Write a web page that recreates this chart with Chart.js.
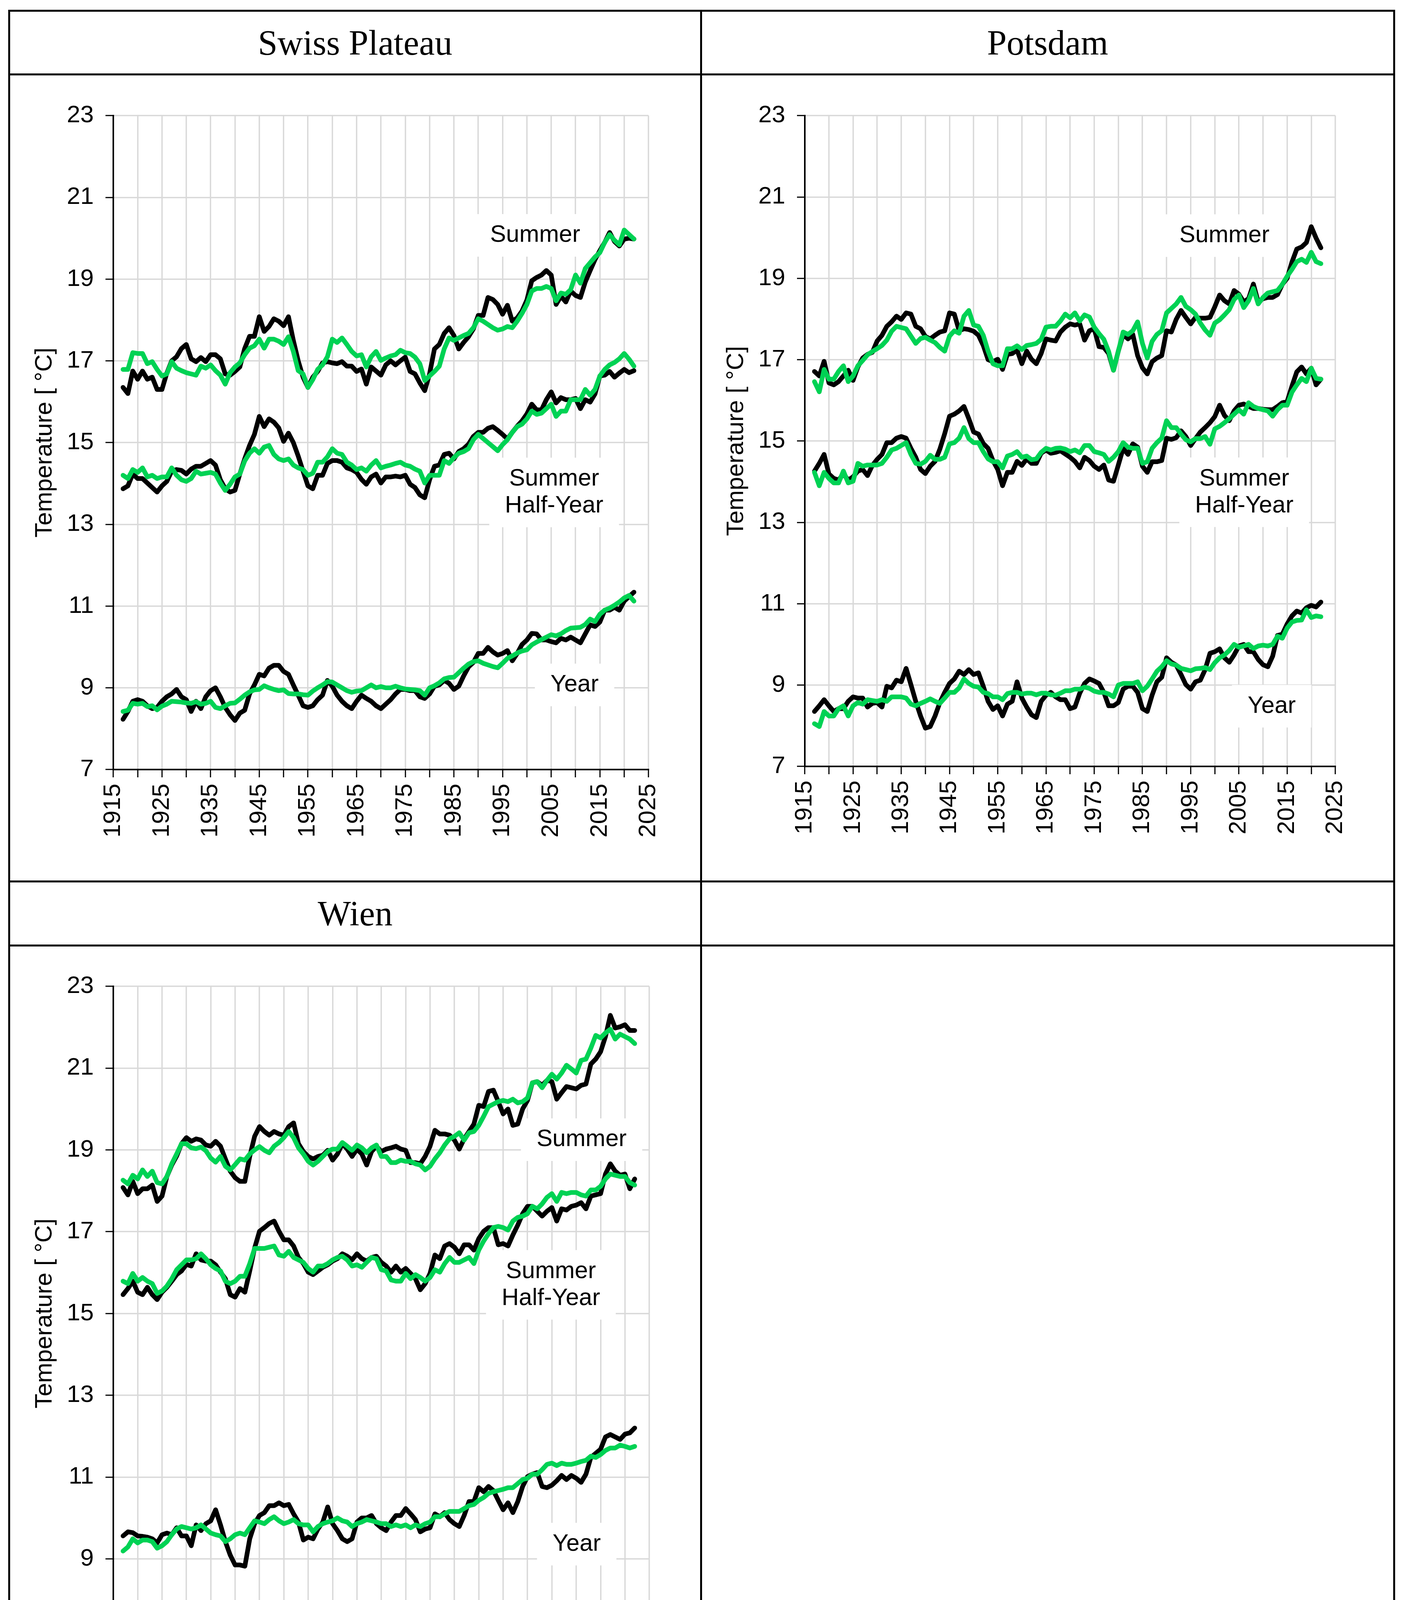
<!DOCTYPE html>
<html>
  <head>
    <title>Measured and Estimated Temperature</title>
    <script src="https://cdn.jsdelivr.net/npm/chart.js@4.4.0/dist/chart.umd.min.js"></script>
    <style>
      body { margin: 0; background: #fff; }
      #page { position: relative; width: 3586px; height: 4513px; background: #fff; overflow: hidden; }
      .rule { position: absolute; background: #000; }
      .head {
        position: absolute; display: flex; align-items: center; justify-content: center;
        font-family: "Liberation Serif", "DejaVu Serif", serif; font-size: 90px; color: #000;
      }
      canvas { position: absolute; }
      #legend {
        position: absolute; left: 1874px; top: 4173px; height: 80px; display: flex; align-items: center;
        font-family: "Liberation Sans", Arial, sans-serif; font-size: 64px; color: #000; white-space: nowrap;
      }
      .swatch { display: inline-block; width: 115px; height: 15px; border-radius: 7px; margin-right: 9px; }
    </style>
  </head>

  <body>
    <div id="page">
      <div class="rule" style="left:21px;top:25px;width:3550px;height:5px"></div>
      <div class="rule" style="left:21px;top:4490px;width:3550px;height:5px"></div>
      <div class="rule" style="left:21px;top:25px;width:5px;height:4470px"></div>
      <div class="rule" style="left:3566px;top:25px;width:5px;height:4470px"></div>
      <div class="rule" style="left:1792px;top:25px;width:5px;height:4470px"></div>
      <div class="rule" style="left:21px;top:188px;width:3550px;height:5px"></div>
      <div class="rule" style="left:21px;top:2254px;width:3550px;height:5px"></div>
      <div class="rule" style="left:21px;top:2418px;width:3550px;height:5px"></div>

      <div class="head" style="left:26px;top:30px;width:1766px;height:158px">Swiss Plateau</div>
      <div class="head" style="left:1797px;top:30px;width:1769px;height:158px">Potsdam</div>
      <div class="head" style="left:26px;top:2259px;width:1766px;height:159px">Wien</div>

      <canvas id="swiss" width="1740" height="2020" style="left:40px;top:220px"></canvas>
      <canvas id="potsdam" width="1740" height="2020" style="left:1810px;top:220px"></canvas>
      <canvas id="wien" width="1740" height="2020" style="left:40px;top:2449px"></canvas>

      <div id="legend">
        <span class="swatch" style="background:#000"></span><span style="margin-right:11px">Measured Temperature</span>
        <span class="swatch" style="background:#00d254"></span><span>Estimated Temperature</span>
      </div>
    </div>

    <script>
      // years 1917 .. 2022
      const years = Array.from({ length: 106 }, (_, i) => 1917 + i);

      // Swiss Plateau
      const swSumM = [16.35, 16.2, 16.75, 16.55, 16.75, 16.55, 16.6, 16.3, 16.3, 16.7,
        17.0, 17.1, 17.3, 17.4, 17.05, 16.98, 17.08, 16.98, 17.15, 17.15,
        17.05, 16.68, 16.65, 16.74, 16.85, 17.3, 17.6, 17.6, 18.08, 17.72,
        17.84, 18.03, 17.97, 17.86, 18.08, 17.5, 17.0, 16.6, 16.35, 16.6,
        16.74, 16.95, 16.98, 16.95, 16.93, 16.98, 16.87, 16.87, 16.74, 16.8,
        16.43, 16.85, 16.75, 16.65, 16.9, 17.0, 16.9, 17.0, 17.09, 16.74,
        16.68, 16.46, 16.27, 16.68, 17.29, 17.4, 17.67, 17.81, 17.62, 17.29,
        17.45, 17.59, 17.78, 18.11, 18.11, 18.55, 18.5, 18.38, 18.14, 18.36,
        17.97, 18.05, 18.22, 18.49, 18.96, 19.04, 19.1, 19.21, 19.1, 18.38,
        18.58, 18.44, 18.71, 18.6, 18.55, 18.93, 19.21, 19.48, 19.7, 19.9,
        20.14, 19.92, 19.81, 19.98, 20.0, 19.98];
      const swSumE = [16.79, 16.79, 17.2, 17.18, 17.18, 16.93, 16.98, 16.79, 16.63, 16.68,
        16.98, 16.82, 16.76, 16.71, 16.68, 16.65, 16.87, 16.82, 16.9, 16.76,
        16.65, 16.43, 16.71, 16.85, 16.95, 17.15, 17.31, 17.37, 17.53, 17.31,
        17.53, 17.53, 17.48, 17.4, 17.59, 17.23, 16.76, 16.68, 16.35, 16.54,
        16.79, 16.9, 17.1, 17.53, 17.45, 17.56, 17.4, 17.23, 17.12, 17.15,
        16.85, 17.1, 17.23, 17.01, 17.07, 17.12, 17.15, 17.26, 17.2, 17.18,
        17.09, 16.93, 16.52, 16.63, 16.74, 16.87, 17.29, 17.56, 17.5, 17.56,
        17.62, 17.67, 17.81, 18.03, 17.97, 17.89, 17.81, 17.75, 17.78, 17.84,
        17.81, 17.97, 18.16, 18.38, 18.71, 18.77, 18.77, 18.82, 18.77, 18.47,
        18.66, 18.63, 18.74, 19.1, 18.9, 19.26, 19.4, 19.54, 19.65, 19.9,
        20.09, 19.95, 19.84, 20.2, 20.09, 19.98];
      const swHalfM = [13.87, 13.94, 14.23, 14.12, 14.12, 14.01, 13.9, 13.79, 13.94, 14.05,
        14.3, 14.34, 14.32, 14.23, 14.35, 14.42, 14.42, 14.49, 14.56, 14.45,
        14.09, 13.87, 13.79, 13.83, 14.23, 14.6, 14.93, 15.2, 15.64, 15.39,
        15.58, 15.5, 15.36, 15.03, 15.23, 15.0, 14.67, 14.3, 13.94, 13.87,
        14.2, 14.2, 14.49, 14.56, 14.56, 14.52, 14.38, 14.34, 14.27, 14.1,
        13.98, 14.16, 14.23, 14.01, 14.16, 14.16, 14.18, 14.16, 14.2, 13.98,
        13.9, 13.72, 13.65, 14.09, 14.42, 14.45, 14.71, 14.74, 14.6, 14.78,
        14.85, 14.96, 15.15, 15.25, 15.25, 15.35, 15.39, 15.3, 15.2, 15.09,
        15.25, 15.4, 15.53, 15.7, 15.94, 15.8, 15.8, 16.05, 16.24, 15.97,
        16.1, 16.05, 16.05, 16.08, 15.83, 16.05, 15.99, 16.19, 16.63, 16.65,
        16.74, 16.6, 16.7, 16.79, 16.71, 16.76];
      const swHalfE = [14.2, 14.12, 14.34, 14.27, 14.38, 14.16, 14.2, 14.12, 14.16, 14.16,
        14.38, 14.2, 14.09, 14.05, 14.12, 14.3, 14.23, 14.25, 14.27, 14.23,
        14.01, 13.83, 13.98, 14.16, 14.23, 14.55, 14.74, 14.85, 14.74, 14.89,
        14.93, 14.71, 14.6, 14.56, 14.6, 14.45, 14.38, 14.34, 14.2, 14.25,
        14.52, 14.52, 14.65, 14.85, 14.74, 14.71, 14.52, 14.45, 14.34, 14.38,
        14.3, 14.45, 14.56, 14.38, 14.42, 14.45, 14.49, 14.52, 14.45, 14.42,
        14.35, 14.3, 14.01, 14.2, 14.2, 14.2, 14.56, 14.49, 14.63, 14.74,
        14.78, 14.85, 15.07, 15.2, 15.1, 15.0, 14.9, 14.8, 14.95, 15.07,
        15.25, 15.39, 15.45, 15.58, 15.77, 15.69, 15.72, 15.83, 15.94, 15.64,
        15.77, 15.77, 16.05, 16.05, 16.05, 16.3, 16.16, 16.3, 16.63, 16.79,
        16.9, 16.96, 17.05, 17.18, 17.04, 16.87];
      const swYearM = [8.23, 8.42, 8.67, 8.71, 8.67, 8.56, 8.49, 8.52, 8.67, 8.78,
        8.85, 8.96, 8.78, 8.71, 8.42, 8.67, 8.49, 8.78, 8.93, 9.0,
        8.78, 8.52, 8.34, 8.2, 8.38, 8.45, 8.85, 9.07, 9.33, 9.29,
        9.48, 9.55, 9.55, 9.4, 9.33, 9.07, 8.82, 8.56, 8.52, 8.56,
        8.71, 8.82, 9.18, 9.04, 8.82, 8.67, 8.56, 8.49, 8.67, 8.82,
        8.74, 8.67, 8.56, 8.49, 8.6, 8.71, 8.85, 8.96, 8.96, 8.93,
        8.93, 8.78, 8.74, 8.85, 9.04, 9.07, 9.18, 9.11, 8.96, 9.04,
        9.29, 9.51, 9.62, 9.84, 9.84, 9.99, 9.88, 9.8, 9.84, 9.91,
        9.66, 9.84, 10.06, 10.17, 10.33, 10.32, 10.17, 10.17, 10.13, 10.1,
        10.21, 10.17, 10.24, 10.17, 10.1, 10.32, 10.54, 10.5, 10.61, 10.9,
        10.9, 10.97, 10.9, 11.12, 11.23, 11.34];
      const swYearE = [8.42, 8.45, 8.62, 8.6, 8.62, 8.54, 8.56, 8.46, 8.55, 8.6,
        8.67, 8.66, 8.65, 8.63, 8.62, 8.66, 8.6, 8.62, 8.67, 8.52,
        8.49, 8.56, 8.62, 8.63, 8.72, 8.82, 8.9, 8.95, 8.96, 9.05,
        9.0, 8.96, 8.93, 8.95, 8.86, 8.85, 8.85, 8.83, 8.82, 8.92,
        9.0, 9.07, 9.15, 9.14, 9.07, 9.0, 8.93, 8.89, 8.92, 8.93,
        9.0, 9.07, 9.0, 9.03, 9.0, 9.0, 9.04, 9.0, 8.97, 8.96,
        8.95, 8.93, 8.82, 9.0, 9.05, 9.12, 9.22, 9.25, 9.26, 9.37,
        9.48, 9.58, 9.64, 9.66, 9.6, 9.56, 9.52, 9.49, 9.6, 9.72,
        9.78, 9.85, 9.9, 9.93, 10.05, 10.12, 10.18, 10.24, 10.3, 10.27,
        10.32, 10.4, 10.46, 10.47, 10.48, 10.55, 10.68, 10.62, 10.8, 10.9,
        10.95, 11.02, 11.1, 11.2, 11.26, 11.12];

      // Potsdam
      const poSumM = [16.71, 16.6, 16.96, 16.43, 16.38, 16.46, 16.6, 16.74, 16.49, 16.82,
        17.04, 17.13, 17.18, 17.46, 17.6, 17.82, 17.93, 18.07, 17.99, 18.15,
        18.12, 17.82, 17.76, 17.57, 17.51, 17.6, 17.68, 17.71, 18.15, 18.12,
        17.71, 17.76, 17.74, 17.7, 17.6, 17.35, 17.0, 16.95, 17.01, 16.76,
        17.13, 17.15, 17.24, 16.9, 17.21, 17.01, 16.9, 17.15, 17.51, 17.48,
        17.46, 17.68, 17.8, 17.88, 17.85, 17.88, 17.48, 17.71, 17.76, 17.32,
        17.3, 17.15, 16.74, 17.21, 17.62, 17.51, 17.62, 17.1, 16.8, 16.65,
        16.95, 17.04, 17.1, 17.71, 17.68, 17.99, 18.21, 18.04, 17.88, 18.04,
        18.02, 18.02, 18.04, 18.3, 18.59, 18.45, 18.37, 18.7, 18.61, 18.42,
        18.5, 18.86, 18.42, 18.5, 18.53, 18.53, 18.6, 18.85, 19.0, 19.4,
        19.72, 19.77, 19.88, 20.27, 19.99, 19.75];
      const poSumE = [16.46, 16.21, 16.76, 16.52, 16.52, 16.71, 16.85, 16.46, 16.6, 16.85,
        16.98, 17.12, 17.2, 17.27, 17.35, 17.48, 17.7, 17.82, 17.79, 17.76,
        17.58, 17.4, 17.52, 17.55, 17.48, 17.42, 17.3, 17.21, 17.58, 17.71,
        17.65, 18.07, 18.21, 17.85, 17.82, 17.6, 17.21, 16.9, 16.85, 16.85,
        17.27, 17.27, 17.34, 17.25, 17.35, 17.37, 17.4, 17.5, 17.8, 17.82,
        17.82, 17.95, 18.12, 18.03, 18.15, 17.95, 18.1, 18.05, 17.8, 17.64,
        17.5, 17.2, 16.74, 17.21, 17.68, 17.62, 17.71, 17.93, 17.4, 17.04,
        17.45, 17.62, 17.71, 18.15, 18.26, 18.37, 18.53, 18.31, 18.23, 18.12,
        17.9, 17.73, 17.6, 17.9, 17.98, 18.1, 18.23, 18.48, 18.59, 18.28,
        18.45, 18.75, 18.37, 18.53, 18.64, 18.67, 18.7, 18.85, 19.05, 19.22,
        19.41, 19.47, 19.39, 19.64, 19.41, 19.36];
      const poHalfM = [14.26, 14.45, 14.67, 14.19, 14.08, 14.04, 14.19, 14.04, 14.12, 14.26,
        14.3, 14.15, 14.4, 14.55, 14.67, 14.96, 14.96, 15.07, 15.11, 15.07,
        14.82, 14.6, 14.3, 14.2, 14.38, 14.5, 14.8, 15.18, 15.61, 15.66,
        15.74, 15.85, 15.55, 15.22, 15.17, 14.94, 14.82, 14.52, 14.3, 13.9,
        14.23, 14.23, 14.5, 14.4, 14.56, 14.45, 14.45, 14.7, 14.78, 14.7,
        14.72, 14.76, 14.68, 14.6, 14.5, 14.34, 14.6, 14.52, 14.38, 14.3,
        14.41, 14.04, 14.01, 14.41, 14.82, 14.67, 14.93, 14.85, 14.38, 14.23,
        14.49, 14.49, 14.52, 15.07, 15.04, 15.08, 15.25, 15.11, 14.89, 15.06,
        15.22, 15.33, 15.45, 15.6, 15.88, 15.63, 15.5, 15.74, 15.88, 15.91,
        15.85, 15.8, 15.8, 15.78, 15.77, 15.77, 15.85, 15.94, 15.97, 16.35,
        16.7, 16.82, 16.65, 16.79, 16.38, 16.52];
      const poHalfE = [14.23, 13.9, 14.23, 14.08, 13.97, 13.97, 14.26, 13.97, 14.01, 14.45,
        14.38, 14.41, 14.41, 14.41, 14.45, 14.6, 14.78, 14.82, 14.89, 14.96,
        14.67, 14.45, 14.43, 14.5, 14.65, 14.55, 14.55, 14.6, 14.93, 14.96,
        15.07, 15.33, 15.06, 14.96, 14.96, 14.74, 14.56, 14.49, 14.49, 14.34,
        14.63, 14.67, 14.74, 14.6, 14.63, 14.54, 14.56, 14.72, 14.82, 14.78,
        14.82, 14.83, 14.8, 14.74, 14.78, 14.71, 14.89, 14.89, 14.74, 14.71,
        14.67, 14.5, 14.6, 14.74, 14.96, 14.85, 14.82, 14.82, 14.45, 14.49,
        14.82, 14.96, 15.07, 15.5, 15.33, 15.33, 15.17, 15.03, 14.98, 15.06,
        15.06, 15.11, 14.92, 15.3, 15.36, 15.45, 15.55, 15.66, 15.77, 15.66,
        15.94, 15.85, 15.8, 15.77, 15.74, 15.61, 15.77, 15.88, 15.88, 16.2,
        16.38, 16.54, 16.46, 16.79, 16.54, 16.52];
      const poYearM = [8.35, 8.49, 8.64, 8.49, 8.35, 8.42, 8.42, 8.6, 8.71, 8.68,
        8.68, 8.46, 8.55, 8.57, 8.46, 8.97, 8.93, 9.12, 9.08, 9.41,
        9.01, 8.6, 8.24, 7.94, 7.98, 8.24, 8.57, 8.82, 9.04, 9.15,
        9.34, 9.26, 9.38, 9.26, 9.3, 8.97, 8.6, 8.4, 8.49, 8.24,
        8.53, 8.6, 9.08, 8.68, 8.46, 8.27, 8.2, 8.6, 8.75, 8.82,
        8.71, 8.64, 8.64, 8.42, 8.46, 8.8, 9.04, 9.15, 9.1, 9.04,
        8.82, 8.49, 8.49, 8.57, 8.9, 8.97, 8.97, 8.82, 8.42, 8.35,
        8.75, 9.08, 9.19, 9.67, 9.56, 9.49, 9.26, 9.01, 8.9, 9.08,
        9.12, 9.38, 9.78, 9.82, 9.89, 9.67, 9.56, 9.74, 9.96, 10.0,
        9.82, 9.82, 9.63, 9.5, 9.45, 9.71, 10.22, 10.25, 10.5, 10.7,
        10.82, 10.77, 10.9, 10.96, 10.92, 11.04];
      const poYearE = [8.05, 7.98, 8.35, 8.24, 8.24, 8.42, 8.49, 8.24, 8.49, 8.57,
        8.53, 8.64, 8.62, 8.6, 8.64, 8.6, 8.71, 8.71, 8.71, 8.68,
        8.53, 8.49, 8.55, 8.6, 8.66, 8.6, 8.55, 8.68, 8.82, 8.82,
        8.93, 9.15, 9.04, 8.97, 8.95, 8.82, 8.79, 8.71, 8.71, 8.64,
        8.79, 8.82, 8.82, 8.78, 8.8, 8.8, 8.76, 8.8, 8.8, 8.76,
        8.75, 8.8, 8.86, 8.86, 8.9, 8.9, 8.95, 8.92, 8.85, 8.82,
        8.82, 8.78, 8.71, 9.0, 9.04, 9.04, 9.04, 9.08, 8.86, 8.97,
        9.15, 9.34, 9.45, 9.6, 9.52, 9.49, 9.41, 9.38, 9.35, 9.4,
        9.41, 9.43, 9.38, 9.55, 9.67, 9.74, 9.85, 10.0, 9.93, 9.96,
        10.0, 9.9, 9.96, 9.98, 9.96, 10.0, 10.2, 10.15, 10.4, 10.55,
        10.59, 10.6, 10.85, 10.66, 10.7, 10.68];

      // Wien
      const wiSumM = [18.08, 17.9, 18.23, 17.93, 18.05, 18.05, 18.14, 17.74, 17.87, 18.35,
        18.63, 18.85, 19.15, 19.3, 19.21, 19.27, 19.24, 19.12, 19.09, 19.21,
        19.09, 18.78, 18.48, 18.32, 18.23, 18.23, 18.84, 19.33, 19.57, 19.45,
        19.36, 19.45, 19.39, 19.36, 19.57, 19.66, 19.15, 18.96, 18.84, 18.78,
        18.84, 18.87, 18.99, 18.75, 18.9, 19.15, 19.02, 18.84, 19.02, 18.9,
        18.63, 18.96, 19.09, 18.96, 19.02, 19.05, 19.09, 19.02, 18.99, 18.69,
        18.69, 18.66, 18.84, 19.09, 19.48, 19.39, 19.39, 19.36, 19.24, 19.02,
        19.27, 19.45, 19.63, 20.09, 20.06, 20.43, 20.46, 20.18, 19.88, 20.0,
        19.6, 19.63, 20.0, 20.21, 20.64, 20.67, 20.58, 20.7, 20.67, 20.24,
        20.4, 20.55, 20.52, 20.49, 20.58, 20.61, 21.1, 21.22, 21.4, 21.77,
        22.29, 21.98, 22.01, 22.06, 21.92, 21.92];
      const wiSumE = [18.26, 18.17, 18.38, 18.29, 18.51, 18.35, 18.48, 18.2, 18.17, 18.35,
        18.66, 18.9, 19.15, 19.15, 19.05, 19.03, 19.07, 18.98, 18.8, 18.7,
        18.84, 18.6, 18.51, 18.64, 18.78, 18.75, 18.9, 19.0, 19.08, 18.99,
        18.93, 19.09, 19.18, 19.3, 19.45, 19.3, 19.05, 18.9, 18.72, 18.63,
        18.72, 18.84, 18.96, 19.02, 19.02, 19.18, 19.09, 18.99, 19.12, 19.05,
        18.93, 19.05, 19.12, 18.84, 18.84, 18.69, 18.69, 18.75, 18.72, 18.72,
        18.66, 18.63, 18.51, 18.6, 18.78, 18.93, 19.12, 19.27, 19.33, 19.42,
        19.24, 19.42, 19.45, 19.6, 19.82, 20.06, 20.12, 20.18, 20.21, 20.18,
        20.24, 20.15, 20.18, 20.27, 20.64, 20.67, 20.52, 20.7, 20.85, 20.73,
        20.88, 21.07, 20.98, 20.88, 21.19, 21.22, 21.49, 21.8, 21.74, 21.86,
        21.95, 21.71, 21.83, 21.77, 21.71, 21.6];
      const wiHalfM = [15.46, 15.61, 15.79, 15.52, 15.46, 15.64, 15.46, 15.34, 15.52, 15.64,
        15.79, 15.95, 16.04, 16.2, 16.16, 16.46, 16.31, 16.28, 16.28, 16.19,
        16.01, 15.85, 15.46, 15.4, 15.61, 15.52, 16.04, 16.6, 17.01, 17.1,
        17.2, 17.26, 17.01, 16.8, 16.8, 16.65, 16.37, 16.22, 16.01, 15.95,
        16.04, 16.13, 16.19, 16.28, 16.34, 16.46, 16.4, 16.31, 16.46, 16.34,
        16.28, 16.37, 16.4, 16.25, 16.16, 16.01, 16.16, 16.01, 16.1, 15.98,
        15.85, 15.58, 15.73, 15.98, 16.43, 16.34, 16.65, 16.71, 16.62, 16.46,
        16.68, 16.68, 16.55, 16.83, 17.01, 17.1, 17.1, 16.68, 16.71, 16.65,
        16.92, 17.16, 17.44, 17.62, 17.62, 17.5, 17.38, 17.5, 17.59, 17.26,
        17.56, 17.53, 17.62, 17.65, 17.71, 17.56, 17.87, 17.9, 17.93, 18.41,
        18.66, 18.48, 18.38, 18.41, 18.05, 18.29];
      const wiHalfE = [15.79, 15.73, 15.98, 15.79, 15.88, 15.79, 15.73, 15.49, 15.55, 15.67,
        15.85, 16.07, 16.19, 16.31, 16.31, 16.34, 16.46, 16.34, 16.19, 16.1,
        16.04, 15.79, 15.73, 15.79, 15.91, 15.91, 16.22, 16.59, 16.59, 16.59,
        16.62, 16.65, 16.43, 16.4, 16.52, 16.37, 16.31, 16.25, 16.1, 16.01,
        16.16, 16.16, 16.22, 16.31, 16.37, 16.4, 16.31, 16.16, 16.19, 16.13,
        16.25, 16.37, 16.34, 16.07, 16.04, 15.82, 15.79, 15.79, 15.98, 15.85,
        15.95, 15.88, 15.79, 15.88, 16.07, 16.01, 16.22, 16.37, 16.25, 16.25,
        16.31, 16.37, 16.22, 16.55, 16.77, 16.95, 17.1, 17.13, 17.1, 17.04,
        17.26, 17.35, 17.38, 17.44, 17.62, 17.56, 17.68, 17.84, 17.93, 17.74,
        17.96, 17.93, 17.96, 17.96, 17.9, 17.87, 18.02, 18.02, 18.11, 18.29,
        18.41, 18.38, 18.35, 18.35, 18.2, 18.14];
      const wiYearM = [9.56, 9.66, 9.64, 9.56, 9.55, 9.53, 9.49, 9.39, 9.59, 9.63,
        9.59, 9.76, 9.56, 9.56, 9.32, 9.83, 9.69, 9.86, 9.93, 10.2,
        9.83, 9.42, 9.09, 8.85, 8.85, 8.82, 9.49, 9.86, 10.06, 10.13,
        10.3, 10.3, 10.37, 10.3, 10.33, 10.1, 9.9, 9.46, 9.53, 9.49,
        9.73, 9.9, 10.27, 9.86, 9.69, 9.49, 9.42, 9.49, 9.9, 10.0,
        10.0, 10.06, 9.86, 9.76, 9.69, 9.9, 10.06, 10.06, 10.23, 10.1,
        9.96, 9.66, 9.73, 9.76, 10.1, 10.03, 10.13, 9.96, 9.86, 9.79,
        10.06, 10.4, 10.4, 10.74, 10.64, 10.77, 10.67, 10.43, 10.2, 10.37,
        10.13, 10.4, 10.77, 11.01, 11.07, 11.11, 10.77, 10.74, 10.8, 10.91,
        11.04, 10.94, 11.04, 10.97, 10.87, 11.07, 11.48, 11.58, 11.68, 11.98,
        12.04, 11.98, 11.92, 12.05, 12.08, 12.2];
      const wiYearE = [9.19, 9.29, 9.49, 9.39, 9.46, 9.46, 9.42, 9.26, 9.32, 9.42,
        9.59, 9.73, 9.79, 9.76, 9.73, 9.76, 9.83, 9.73, 9.63, 9.59,
        9.56, 9.42, 9.49, 9.59, 9.63, 9.59, 9.76, 9.93, 9.9, 9.86,
        9.96, 10.03, 9.93, 9.86, 9.9, 9.96, 9.86, 9.83, 9.83, 9.66,
        9.79, 9.86, 9.9, 9.93, 10.0, 9.93, 9.9, 9.79, 9.86, 9.9,
        9.96, 9.93, 9.9, 9.86, 9.86, 9.79, 9.83, 9.79, 9.83, 9.76,
        9.83, 9.79, 9.86, 9.9, 10.03, 10.03, 10.1, 10.16, 10.16, 10.16,
        10.23, 10.3, 10.33, 10.43, 10.5, 10.6, 10.64, 10.67, 10.7, 10.74,
        10.74, 10.84, 10.94, 10.97, 11.07, 11.07, 11.18, 11.31, 11.34, 11.28,
        11.34, 11.31, 11.31, 11.34, 11.38, 11.41, 11.51, 11.48, 11.55, 11.65,
        11.71, 11.71, 11.78, 11.75, 11.71, 11.75];

      const BLACK = '#000000';
      const GREEN = '#00d254';
      const SANS = '"Liberation Sans", Arial, sans-serif';

      const pts = (vals) => vals.map((v, i) => ({ x: years[i], y: v }));

      // white-boxed series names drawn inside the plot, placed in data units
      const seasonLabels = {
        id: 'seasonLabels',
        beforeDatasetsDraw(chart, args, opts) {
          const { ctx, scales: { x, y } } = chart;
          const lh = 69;
          ctx.save();
          ctx.font = '61px ' + SANS;
          ctx.textAlign = 'center';
          ctx.textBaseline = 'middle';
          opts.items.forEach((it) => {
            const cx = x.getPixelForValue(it.x);
            const cy = y.getPixelForValue(it.y);
            const w = Math.max(...it.lines.map((l) => ctx.measureText(l).width)) + 80;
            const h = it.lines.length * lh + 40;
            ctx.fillStyle = '#fff';
            ctx.fillRect(cx - w / 2, cy - h / 2, w, h);
            ctx.fillStyle = '#000';
            it.lines.forEach((l, i) => ctx.fillText(l, cx, cy + (i - (it.lines.length - 1) / 2) * lh));
          });
          ctx.restore();
        },
      };

      function makeChart(id, series, items, geom) {
        const datasets = [];
        series.forEach(([m, e]) => {
          datasets.push({ data: pts(m), borderColor: BLACK, order: 1 });
          datasets.push({ data: pts(e), borderColor: GREEN, order: 0 });
        });
        const grid = { color: '#d9d9d9', lineWidth: 3.5, tickColor: '#000', tickWidth: 3, tickLength: 20 };
        return new Chart(document.getElementById(id).getContext('2d'), {
          type: 'line',
          data: { datasets: datasets },
          plugins: [seasonLabels],
          options: {
            responsive: false,
            animation: false,
            devicePixelRatio: 1,
            layout: { padding: { top: geom.padTop, right: geom.padRight, left: 0, bottom: 0 } },
            elements: {
              point: { radius: 0 },
              line: { borderWidth: 12, tension: 0, borderJoinStyle: 'round', borderCapStyle: 'round', fill: false },
            },
            plugins: {
              legend: { display: false },
              tooltip: { enabled: false },
              seasonLabels: { items: items },
            },
            scales: {
              x: {
                type: 'linear',
                min: 1915,
                max: 2025,
                afterFit: (s) => { s.height = geom.xAxisH; },
                grid: grid,
                border: { color: '#000', width: 4 },
                ticks: {
                  stepSize: 5,
                  autoSkip: false,
                  minRotation: 90,
                  maxRotation: 90,
                  padding: 16,
                  color: '#000',
                  font: { family: SANS, size: 62 },
                  callback: (v) => ((v - 1915) % 10 === 0 ? String(v) : ''),
                },
              },
              y: {
                min: 7,
                max: 23,
                afterFit: (s) => { s.width = geom.yAxisW; },
                grid: grid,
                border: { color: '#000', width: 4 },
                ticks: { stepSize: 2, padding: 30, color: '#000', font: { family: SANS, size: 62 } },
                title: {
                  display: true,
                  text: 'Temperature [ °C]',
                  color: '#000',
                  font: { family: SANS, size: 62 },
                  padding: { top: 38, bottom: 0 },
                },
              },
            },
          },
        });
      }

      window.onload = () => {
        makeChart('swiss', [[swSumM, swSumE], [swHalfM, swHalfE], [swYearM, swYearE]], [
          { lines: ['Summer'], x: 2001.7, y: 20.07 },
          { lines: ['Summer', 'Half-Year'], x: 2005.6, y: 13.78 },
          { lines: ['Year'], x: 2009.8, y: 9.07 },
        ], { padTop: 76, padRight: 120, xAxisH: 270, yAxisW: 250 });

        makeChart('potsdam', [[poSumM, poSumE], [poHalfM, poHalfE], [poYearM, poYearE]], [
          { lines: ['Summer'], x: 2002.0, y: 20.05 },
          { lines: ['Summer', 'Half-Year'], x: 2006.1, y: 13.74 },
          { lines: ['Year'], x: 2011.8, y: 8.48 },
        ], { padTop: 76, padRight: 132, xAxisH: 278, yAxisW: 250 });

        makeChart('wien', [[wiSumM, wiSumE], [wiHalfM, wiHalfE], [wiYearM, wiYearE]], [
          { lines: ['Summer'], x: 2011.1, y: 19.25 },
          { lines: ['Summer', 'Half-Year'], x: 2004.8, y: 15.7 },
          { lines: ['Year'], x: 2010.1, y: 9.36 },
        ], { padTop: 76, padRight: 118, xAxisH: 269, yAxisW: 250 });
      };
    </script>
  </body>
</html>
